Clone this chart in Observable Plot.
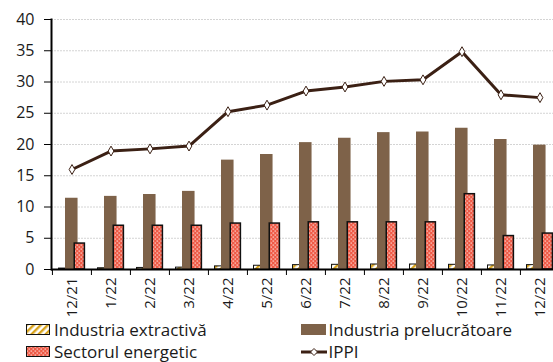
<!DOCTYPE html>
<html><head><meta charset="utf-8">
<script src="https://cdn.jsdelivr.net/npm/d3@7"></script>
<script src="https://cdn.jsdelivr.net/npm/@observablehq/plot@0.6"></script>
<style>
body{margin:0;background:#fff;font-family:"Open Sans",sans-serif;}
#chart{height:317px;overflow:visible;}
#legend{position:relative;height:45px;width:553px;font-size:17px;color:#1a1a1a;}
.item{position:absolute;height:23px;display:flex;align-items:center;white-space:nowrap;}
.item span{line-height:18px;}
.item svg{margin-right:2px;margin-top:1px;}
</style></head><body>
<div id="chart"></div>
<div id="legend"></div>
<script>
const categories = ["12/21","1/22","2/22","3/22","4/22","5/22","6/22","7/22","8/22","9/22","10/22","11/22","12/22"];
const extractiva = [0.15,0.2,0.25,0.3,0.5,0.6,0.7,0.75,0.8,0.8,0.75,0.65,0.7];
const prelucratoare = [11.4,11.7,12.0,12.5,17.5,18.4,20.3,21.0,21.9,22.0,22.6,20.8,19.9];
const energetic = [4.15,7.0,7.0,7.0,7.35,7.35,7.55,7.55,7.55,7.55,12.05,5.35,5.75];
const ippi = [16.0,18.95,19.3,19.75,25.25,26.3,28.55,29.2,30.1,30.35,34.85,27.95,27.5];
const yTicks = [0,5,10,15,20,25,30,35,40];
const seriesNames = ["Industria extractivă","Industria prelucrătoare","Sectorul energetic","IPPI"];

const bw = 39.15;
const brown = "#7e6249", lineCol = "#3b2014";
const idx = categories.map((c,i)=>i);

const svg = Plot.plot({
  width:553, height:319, marginTop:19, marginBottom:50, marginLeft:51, marginRight:0,
  style:{fontFamily:"Open Sans", fontSize:"15px", color:"#1a1a1a", background:"#fff", overflow:"visible"},
  x:{type:"band", domain:categories, range:[51, 51+13*bw], padding:0},
  y:{domain:[0,40], range:[269,19]},
  marks:[
    Plot.gridY(yTicks.filter(v=>v>0), {stroke:"#d4d4d4", strokeOpacity:1, strokeDasharray:"2,1"}),
    Plot.barY(idx, {x:i=>categories[i], y:i=>extractiva[i], fill:"url(#patExtr)", stroke:"#111", strokeWidth:1, insetLeft:6.5, insetRight:bw-18}),
    Plot.barY(idx, {x:i=>categories[i], y:i=>prelucratoare[i], fill:brown, insetLeft:13, insetRight:bw-25.7}),
    Plot.barY(idx, {x:i=>categories[i], y:i=>energetic[i], fill:"url(#patEn)", stroke:"#111", strokeWidth:1.5, insetLeft:22.25, insetRight:bw-32.55}),
    Plot.line(idx, {x:i=>categories[i], y:i=>ippi[i], stroke:lineCol, strokeWidth:3}),
    Plot.dot(idx, {x:i=>categories[i], y:i=>ippi[i], symbol:"diamond", r:3, fill:"white", stroke:lineCol, strokeWidth:1}),
    Plot.ruleY([0], {stroke:"#000", strokeWidth:2}),
    Plot.frame({anchor:"left", stroke:"#000", strokeWidth:2}),
    Plot.axisY({ticks:yTicks, tickSize:7, tickPadding:10, label:null, stroke:"#000", fontSize:16}),
    Plot.axisX({tickSize:6, fill:"none", dx:-bw/2, label:null, stroke:"#000"}),
    Plot.axisX({tickSize:0, tickRotate:-90, tickPadding:8, label:null, fontSize:15})
  ]
});

d3.select(svg).insert("defs", ":first-child").html(`
  <pattern id="patExtr" patternUnits="userSpaceOnUse" width="5" height="5" patternTransform="rotate(45)">
    <rect width="5" height="5" fill="#fff"/>
    <rect width="2.4" height="5" fill="#d9a41e"/>
  </pattern>
  <pattern id="patEn" patternUnits="userSpaceOnUse" width="4" height="4">
    <rect width="4" height="4" fill="#ee5b47"/>
    <rect x="0.5" y="0.6" width="1.6" height="0.9" fill="#fff" fill-opacity="0.9"/>
    <rect x="2.5" y="2.6" width="1.6" height="0.9" fill="#fff" fill-opacity="0.9"/>
  </pattern>`);
document.getElementById("chart").appendChild(svg);

const legend = d3.select("#legend");
const items = [
  {name:seriesNames[0], left:26, top:1, kind:"extr"},
  {name:seriesNames[1], left:300.5, top:1, kind:"prel"},
  {name:seriesNames[2], left:26, top:23, kind:"en"},
  {name:seriesNames[3], left:300.5, top:23, kind:"ippi"}
];
items.forEach(it=>{
  const d = legend.append("div").attr("class","item").style("left",it.left+"px").style("top",it.top+"px");
  const s = d.append("svg").attr("width",26).attr("height",12);
  if(it.kind==="extr") s.append("rect").attr("x",0.5).attr("y",0.5).attr("width",23).attr("height",10).attr("fill","url(#patExtr)").attr("stroke","#111");
  if(it.kind==="en") s.append("rect").attr("x",0.5).attr("y",0.5).attr("width",23).attr("height",10).attr("fill","url(#patEn)").attr("stroke","#111");
  if(it.kind==="prel") s.append("rect").attr("x",0).attr("y",0).attr("width",25).attr("height",11).attr("fill",brown);
  if(it.kind==="ippi"){
    s.append("line").attr("x1",0).attr("x2",26).attr("y1",6).attr("y2",6).attr("stroke",lineCol).attr("stroke-width",3);
    s.append("path").attr("d","M13,2.5L16.5,6L13,9.5L9.5,6Z").attr("fill","#fff").attr("stroke",lineCol).attr("stroke-width",1);
  }
  d.append("span").text(it.name);
});
</script>
</body></html>
